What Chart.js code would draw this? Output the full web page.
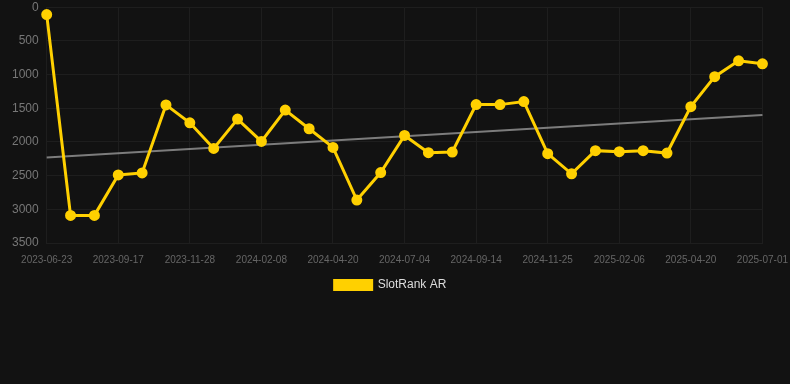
<!DOCTYPE html>
<html>
<head>
<meta charset="utf-8">
<script src="https://cdn.jsdelivr.net/npm/chart.js@4/dist/chart.umd.min.js"></script>
<style>
    html, body { margin: 0; padding: 0; background: #121212; overflow: hidden; }
    #wrap { position: relative; top: -8px; width: 799px; height: 309px; }
</style>
</head>
<body>
<div id="wrap"><canvas id="rankChart"></canvas></div>
<script>
const dates = [
    "2023-06-23", "2023-07-22", "2023-08-19", "2023-09-17", "2023-10-11", "2023-11-04",
    "2023-11-28", "2023-12-22", "2024-01-15", "2024-02-08", "2024-03-03", "2024-03-27",
    "2024-04-20", "2024-05-15", "2024-06-09", "2024-07-04", "2024-07-28", "2024-08-21",
    "2024-09-14", "2024-10-08", "2024-11-01", "2024-11-25", "2024-12-19", "2025-01-12",
    "2025-02-06", "2025-03-02", "2025-03-26", "2025-04-20", "2025-05-14", "2025-06-07",
    "2025-07-01"
];

const rankValues = [
    110, 3090, 3090, 2490, 2460, 1450,
    1716, 2096, 1661, 1992, 1527, 1804,
    2081, 2862, 2455, 1904, 2159, 2150,
    1446, 1446, 1401, 2174, 2473, 2129,
    2144, 2129, 2165, 1476, 1031, 796,
    841
];

// trend endpoints, the rest left empty
const trendValues = [2230];
for (let i = 1; i < dates.length - 1; i++) trendValues.push(null);
trendValues.push(1600);

const yTicks = { min: 0, max: 3500, step: 500 };

document.addEventListener("DOMContentLoaded", () => {
    const ctx = document.getElementById("rankChart");

    new Chart(ctx, {
        type: "line",
        data: {
            labels: dates,
            datasets: [{
                label: "SlotRank AR",
                data: rankValues,
                borderColor: "#ffd000",
                backgroundColor: "#ffd000",
                borderWidth: 3,
                pointRadius: 4,
                pointHoverRadius: 5,
                pointBackgroundColor: "#ffd000",
                pointBorderColor: "#ffd000",
                tension: 0
            }, {
                label: "trend",
                data: trendValues,
                borderColor: "rgba(160, 160, 160, 0.75)",
                borderWidth: 2,
                pointRadius: 0,
                spanGaps: true,
                tension: 0
            }]
        },
        options: {
            responsive: true,
            maintainAspectRatio: false,
            animation: false,
            layout: { padding: { left: 4, right: 22, top: 0, bottom: 0 } },
            plugins: {
                legend: {
                    position: "bottom",
                    labels: {
                        color: "#dddddd",
                        font: { family: "Liberation Sans, Arial, sans-serif", size: 12 },
                        boxWidth: 37,
                        boxHeight: 9,
                        padding: 2,
                        filter: (item) => item.text !== "trend"
                    }
                },
                tooltip: { enabled: false }
            },
            scales: {
                x: {
                    grid: { color: "#1e1e1e", drawTicks: false },
                    border: { color: "#1e1e1e" },
                    ticks: {
                        color: "#666666",
                        font: { family: "Liberation Sans, Arial, sans-serif", size: 10 },
                        maxRotation: 0,
                        autoSkip: true,
                        padding: 11
                    }
                },
                y: {
                    reverse: true,
                    min: yTicks.min,
                    max: yTicks.max,
                    grid: { color: "#1e1e1e", drawTicks: false },
                    border: { color: "#1e1e1e" },
                    ticks: {
                        stepSize: yTicks.step,
                        color: "#777777",
                        font: { family: "Liberation Sans, Arial, sans-serif", size: 12 },
                        padding: 8,
                        callback: (value) => String(value)
                    }
                }
            }
        }
    });
});
</script>
</body>
</html>
